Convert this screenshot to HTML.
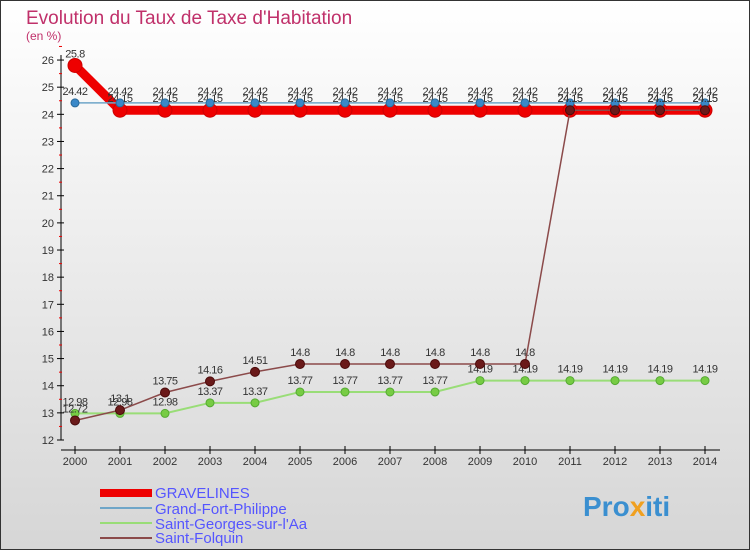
<!DOCTYPE html>
<html><head><meta charset="utf-8"><style>
body{margin:0}
svg{display:block;font-family:"Liberation Sans",sans-serif}
</style></head><body>
<svg id="c" width="750" height="550" viewBox="0 0 750 550">
<defs><linearGradient id="bg" x1="0" y1="0" x2="0" y2="1"><stop offset="0" stop-color="#ffffff"/><stop offset="1" stop-color="#d6d6d6"/></linearGradient></defs>
<rect x="0.5" y="0.5" width="749" height="549" fill="url(#bg)" stroke="#333"/>
<text x="26" y="24" font-size="19" fill="#c0306a">Evolution du Taux de Taxe d'Habitation</text>
<text x="26" y="40" font-size="12" fill="#c0306a">(en %)</text>
<g id="axes"></g><g id="series"></g>
<g>
<rect x="100" y="489" width="52" height="8" fill="#e00"/>
<text x="155" y="498" font-size="15" fill="#5555ff">GRAVELINES</text>
<rect x="100" y="507" width="52" height="2" fill="#6fa6c8"/>
<text x="155" y="514" font-size="15" fill="#5555ff">Grand-Fort-Philippe</text>
<rect x="100" y="522" width="52" height="2" fill="#99dd77"/>
<text x="155" y="529" font-size="15" fill="#5555ff">Saint-Georges-sur-l'Aa</text>
<rect x="100" y="537" width="52" height="2" fill="#8b4a4a"/>
<text x="155" y="543" font-size="15" fill="#5555ff">Saint-Folquin</text>
</g>
<text x="583" y="516" font-size="28" font-weight="bold" fill="#3a8fd0">Pro<tspan fill="#f0a020">x</tspan>iti</text>
</svg>
<script>
const years=[2000,2001,2002,2003,2004,2005,2006,2007,2008,2009,2010,2011,2012,2013,2014];
const gravelines=[25.8,24.15,24.15,24.15,24.15,24.15,24.15,24.15,24.15,24.15,24.15,24.15,24.15,24.15,24.15];
const grandFort=[24.42,24.42,24.42,24.42,24.42,24.42,24.42,24.42,24.42,24.42,24.42,24.42,24.42,24.42,24.42];
const saintGeorges=[12.98,12.98,12.98,13.37,13.37,13.77,13.77,13.77,13.77,14.19,14.19,14.19,14.19,14.19,14.19];
const saintFolquin=[12.72,13.1,13.75,14.16,14.51,14.8,14.8,14.8,14.8,14.8,14.8,24.15,24.15,24.15,24.15];
const yTicks=[12,13,14,15,16,17,18,19,20,21,22,23,24,25,26];
const NS="http://www.w3.org/2000/svg";
const xs=i=>75+i*45;
const ys=v=>440-(v-12)*27.14;
function mk(t,a,p){const e=document.createElementNS(NS,t);for(const k in a)e.setAttribute(k,a[k]);p.appendChild(e);return e;}
const ax=document.getElementById('axes');
let l=mk('line',{x1:61,y1:55,x2:61,y2:440,stroke:'#000'},ax);


yTicks.forEach(v=>{
 mk('line',{x1:57,y1:ys(v),x2:64,y2:ys(v),stroke:'#000'},ax);
 mk('line',{x1:59,y1:ys(v+0.5),x2:62,y2:ys(v+0.5),stroke:'#e00'},ax);
 const t=mk('text',{x:54,y:ys(v)+4,'font-size':11,fill:'#333','text-anchor':'end'},ax);t.textContent=v;
 
 
});
l=mk('line',{x1:61,y1:450,x2:720,y2:450,stroke:'#000'},ax);


years.forEach((y,i)=>{
 mk('line',{x1:xs(i),y1:446,x2:xs(i),y2:454,stroke:'#000'},ax);
 const t=mk('text',{x:xs(i),y:465,'font-size':11,fill:'#333','text-anchor':'middle'},ax);t.textContent=y;
 
 
});
const sg=document.getElementById('series');
function series(name,vals,color,w,r,dot,dotStroke){
 const g=mk('g',{},sg);
 
 
 mk('polyline',{points:vals.map((v,i)=>xs(i)+','+ys(v)).join(' '),fill:'none',stroke:color,'stroke-width':w},g);
 vals.forEach((v,i)=>{
  const c=mk('circle',{cx:xs(i),cy:ys(v),r:r,fill:dot,stroke:dotStroke,'stroke-width':1},g);
  
  
  const t=mk('text',{x:xs(i),y:ys(v)-8,'font-size':11,fill:'#333','text-anchor':'middle','letter-spacing':'-0.5'},g);t.textContent=v;
  
  
 });
}
series('gravelines',gravelines,'#e00',9,7,'#e00','#c00');
series('grand-fort-philippe',grandFort,'#6fa6c8',1.5,4,'#3a88c8','#2a6a9a');
series('saint-georges',saintGeorges,'#99dd77',2,4,'#77cc44','#55aa33');
series('saint-folquin',saintFolquin,'#8b4a4a',1.5,4.5,'#6a1a1a','#4a0a0a');
</script>
</body></html>
